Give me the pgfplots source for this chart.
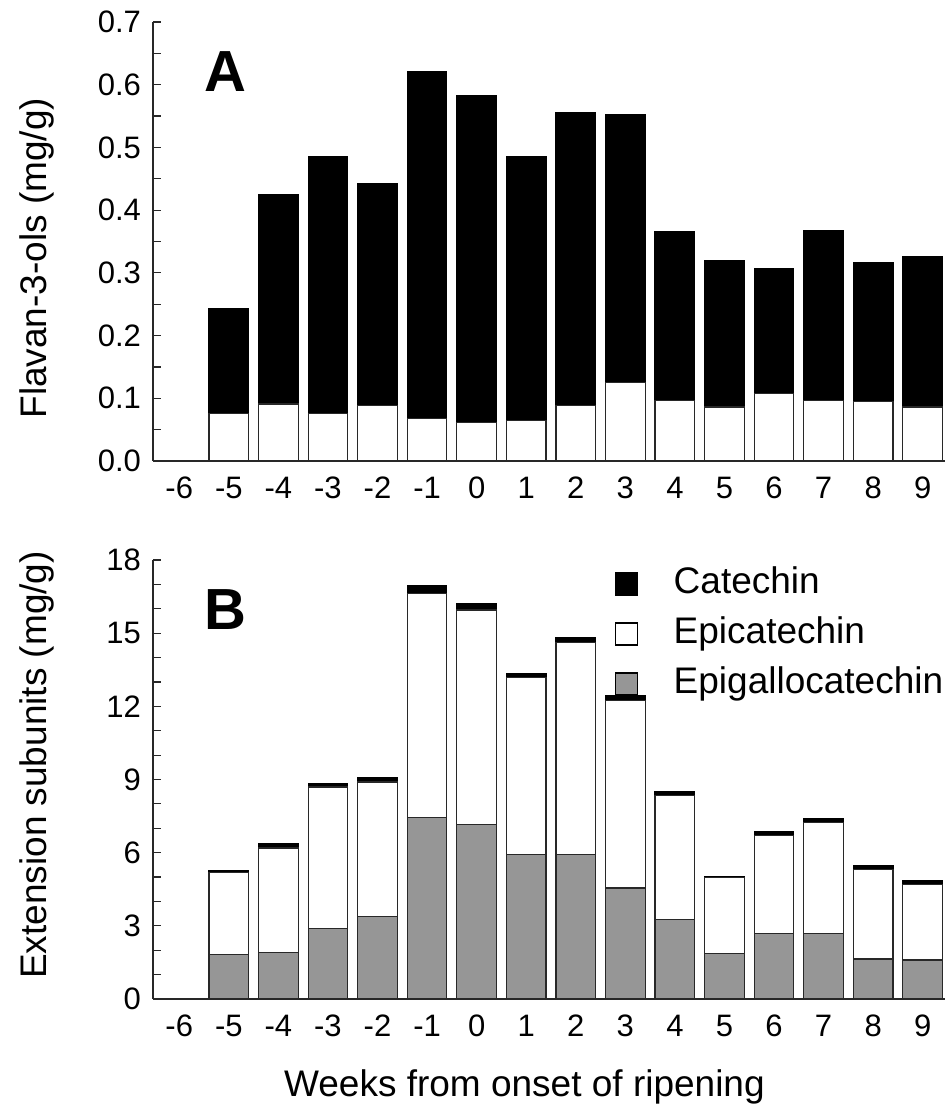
\documentclass[border=0pt]{standalone}
\usepackage{fontspec}
\setmainfont{Liberation Sans}
\usepackage{pgfplots}
\pgfplotsset{compat=1.18}
\definecolor{egc}{RGB}{150,150,150}
\definecolor{edge}{RGB}{40,40,40}
\pgfplotsset{
  panel/.style={
    scale only axis, width=396pt, height=219.5pt,
    xmin=-6.53, xmax=9.45, ymin=0,
    axis x line*=bottom, axis y line*=left,
    axis line style={-, line width=0.7pt, color=edge},
    ybar stacked, bar width=0.8,
    xtick={-6,-5,-4,-3,-2,-1,0,1,2,3,4,5,6,7,8,9},
    xticklabels={-6,-5,-4,-3,-2,-1,0,1,2,3,4,5,6,7,8,9},
    xtick style={draw=none},
    tick align=inside, major tick length=4pt, minor tick length=4pt,
    ytick style={line width=0.6pt, color=edge},
    tick label style={font=\fontsize{15.5}{18}\selectfont},
    /pgf/number format/assume math mode=true,
    xticklabel style={yshift=-4.5pt},
    yticklabel style={xshift=-2.5pt},
    label style={font=\fontsize{18.5}{22}\selectfont},
    every axis plot/.append style={line width=0.6pt},
  }
}
\begin{document}
\begin{tikzpicture}
\useasboundingbox (-76.5pt,-54.5pt) rectangle (399.5pt,499.5pt);
% Panel A
\begin{axis}[panel, at={(0pt,269pt)}, anchor=south west,
  ymax=0.7, ytick={0,0.1,0.2,0.3,0.4,0.5,0.6,0.7}, minor y tick num=1,
  yticklabel style={/pgf/number format/.cd, fixed, fixed zerofill, precision=1},
  ylabel={Flavan-3-ols (mg/g)},
  ylabel style={at={(axis description cs:-0.146,0.462)}, anchor=center},
]
\addplot[fill=white, draw=edge] coordinates {
(-5,0.076) (-4,0.091) (-3,0.076) (-2,0.088) (-1,0.068) (0,0.062) (1,0.064)
(2,0.088) (3,0.125) (4,0.097) (5,0.086) (6,0.107) (7,0.097) (8,0.095) (9,0.086)};
\addplot[fill=black, draw=black] coordinates {
(-5,0.167) (-4,0.334) (-3,0.409) (-2,0.355) (-1,0.553) (0,0.520) (1,0.421)
(2,0.468) (3,0.428) (4,0.268) (5,0.233) (6,0.200) (7,0.270) (8,0.221) (9,0.240)};
\node[font=\fontsize{29}{34}\selectfont\bfseries] at (rel axis cs:0.091,0.888) {A};
\end{axis}
% Panel B
\begin{axis}[panel, at={(0pt,0pt)}, anchor=south west,
  ymax=18, ytick={0,3,6,9,12,15,18}, minor y tick num=2,
  ylabel={Extension subunits (mg/g)},
  ylabel style={at={(axis description cs:-0.146,0.533)}, anchor=center},
  xlabel={Weeks from onset of ripening},
  xlabel style={at={(axis description cs:0.469,-0.200)}, anchor=center},
  reverse legend,
  legend image code/.code={\draw[#1,draw=black,line width=0.6pt] (0pt,-5.5pt) rectangle (11pt,5.5pt); \path[draw=none,fill=none] (0pt,0pt) -- (27pt,0pt);},
  legend style={draw=none, fill=none, at={(0.583,0.995)}, anchor=north west,
    font=\fontsize{18.5}{22}\selectfont, inner sep=0pt, row sep=3.5pt,
    nodes={inner sep=2pt, text height=13.5pt, text depth=4pt}},
  legend cell align=left,
]
\addplot[fill=egc, draw=edge] coordinates {
(-5,1.81) (-4,1.90) (-3,2.90) (-2,3.38) (-1,7.43) (0,7.15) (1,5.92)
(2,5.92) (3,4.55) (4,3.25) (5,1.88) (6,2.70) (7,2.70) (8,1.64) (9,1.60)};
\addlegendentry{Epigallocatechin}
\addplot[fill=white, draw=edge] coordinates {
(-5,3.39) (-4,4.29) (-3,5.79) (-2,5.52) (-1,9.20) (0,8.80) (1,7.26)
(2,8.70) (3,7.70) (4,5.09) (5,3.10) (6,4.00) (7,4.55) (8,3.66) (9,3.09)};
\addlegendentry{Epicatechin}
\addplot[fill=black, draw=black] coordinates {
(-5,0.05) (-4,0.17) (-3,0.13) (-2,0.18) (-1,0.32) (0,0.28) (1,0.16)
(2,0.20) (3,0.17) (4,0.18) (5,0.04) (6,0.15) (7,0.14) (8,0.17) (9,0.16)};
\addlegendentry{Catechin}
\node[font=\fontsize{29}{34}\selectfont\bfseries] at (rel axis cs:0.091,0.886) {B};
\end{axis}
\end{tikzpicture}
\end{document}
